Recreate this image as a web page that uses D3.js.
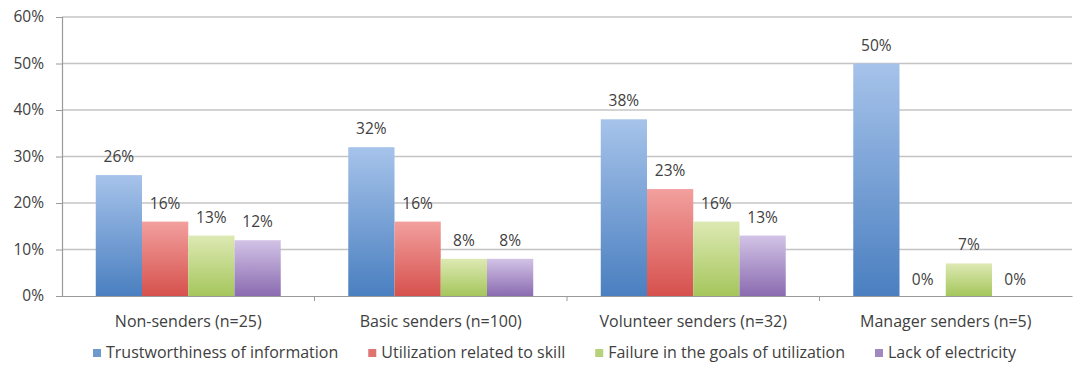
<!DOCTYPE html>
<html>
<head>
<meta charset="utf-8">
<script src="https://cdn.jsdelivr.net/npm/d3@7"></script>
<style>
  html, body { margin: 0; padding: 0; background: #fff; }
  svg { display: block; font-family: "Open Sans", sans-serif; }
</style>
</head>
<body>
<svg id="chart" width="1073" height="374"></svg>
<script>
// Groups of senders along the x axis
const categories = ["Non-senders (n=25)", "Basic senders (n=100)", "Volunteer senders (n=32)", "Manager senders (n=5)"];

// Reasons (series), one bar each per group
const seriesNames = ["Trustworthiness of information", "Utilization related to skill", "Failure in the goals of utilization", "Lack of electricity"];

// Share of respondents per reason, in group order
const trustworthiness = [0.26, 0.32, 0.38, 0.50];
const utilizationSkill = [0.16, 0.16, 0.23, 0.00];
const failureGoals = [0.13, 0.08, 0.16, 0.07];
const lackElectricity = [0.12, 0.08, 0.13, 0.00];

const yTicks = [0, 0.1, 0.2, 0.3, 0.4, 0.5, 0.6];

// Gradient stops (top, bottom) per series
const seriesColors = [
  ["#a6c3ea", "#4a7fc0"],
  ["#f2a09e", "#d6514d"],
  ["#dde9b3", "#a5c65c"],
  ["#d2c3e6", "#8a6bb0"]
];

const seriesValues = [trustworthiness, utilizationSkill, failureGoals, lackElectricity];

const svg = d3.select("#chart");
const margin = { left: 62, right: 1072, top: 17, bottom: 296 };

const x = d3.scaleBand().domain(categories).range([margin.left, margin.right]).paddingInner(0).paddingOuter(0);
const xInner = d3.scaleBand().domain(seriesNames).range([0, x.bandwidth()]).paddingInner(0).paddingOuter(0.73);
const y = d3.scaleLinear().domain([0, 0.6]).range([margin.bottom, margin.top]);

const fmt = d3.format(".0%");
const textColor = "#404040";

// Vertical gradients for the bars
const defs = svg.append("defs");
seriesColors.forEach((c, i) => {
  const g = defs.append("linearGradient")
    .attr("id", "grad" + i)
    .attr("x1", 0).attr("y1", 0).attr("x2", 0).attr("y2", 1);
  g.append("stop").attr("offset", "0%").attr("stop-color", c[0]);
  g.append("stop").attr("offset", "100%").attr("stop-color", c[1]);
});

// Horizontal gridlines
svg.append("g")
  .selectAll("line")
  .data(yTicks.filter(d => d > 0))
  .join("line")
  .attr("x1", margin.left).attr("x2", margin.right)
  .attr("y1", d => y(d)).attr("y2", d => y(d))
  .attr("stroke", "#c4c4c4")
  .attr("stroke-width", 1.4);

// Y axis
const yAxis = svg.append("g")
  .attr("transform", `translate(${margin.left},0)`)
  .call(d3.axisLeft(y).tickValues(yTicks).tickFormat(fmt).tickSize(6).tickPadding(12));
yAxis.select(".domain").attr("stroke", "#9a9a9a").attr("stroke-width", 1.2);
yAxis.selectAll(".tick line").attr("stroke", "#9a9a9a");
yAxis.selectAll(".tick text")
  .attr("fill", textColor)
  .style("font-size", "15.5px")
  .style("font-family", "'Open Sans', sans-serif");

// X axis
const xAxis = svg.append("g")
  .attr("transform", `translate(0,${margin.bottom})`)
  .call(d3.axisBottom(x).tickSize(0).tickPadding(20));
xAxis.select(".domain").attr("stroke", "#9a9a9a").attr("stroke-width", 1.2);
xAxis.selectAll(".tick text")
  .attr("fill", textColor)
  .style("font-size", "16px")
  .style("font-family", "'Open Sans', sans-serif");

// Small tick marks at group boundaries
svg.append("g")
  .selectAll("line")
  .data(categories.slice(1))
  .join("line")
  .attr("x1", d => x(d)).attr("x2", d => x(d))
  .attr("y1", margin.bottom).attr("y2", margin.bottom + 5)
  .attr("stroke", "#9a9a9a");

// Bars
const groups = svg.append("g")
  .selectAll("g")
  .data(categories)
  .join("g")
  .attr("transform", d => `translate(${x(d)},0)`);

const cells = groups.selectAll("g")
  .data((d, ci) => seriesNames.map((s, si) => ({ series: s, si, value: seriesValues[si][ci] })))
  .join("g");

cells.append("rect")
  .attr("x", d => xInner(d.series))
  .attr("width", xInner.bandwidth())
  .attr("y", d => y(d.value))
  .attr("height", d => y(0) - y(d.value))
  .attr("fill", d => `url(#grad${d.si})`);

// Value labels above bars
cells.append("text")
  .attr("x", d => xInner(d.series) + xInner.bandwidth() / 2)
  .attr("y", d => y(d.value) - (d.value === 0 ? 11 : 13))
  .attr("text-anchor", "middle")
  .attr("fill", textColor)
  .style("font-size", "15.5px")
  .text(d => fmt(d.value));

// Legend
const legend = svg.append("g").attr("transform", "translate(0,358)");
const items = legend.selectAll("g")
  .data(seriesNames)
  .join("g");
items.append("rect")
  .attr("width", 8).attr("height", 8)
  .attr("y", -9)
  .attr("fill", (d, i) => seriesColors[i][1])
  .attr("opacity", 0.8);
items.append("text")
  .attr("x", 13)
  .attr("fill", textColor)
  .style("font-size", "16px")
  .text(d => d);

let widths = [];
items.each(function () {
  widths.push(this.getBBox().width);
});
const gap = 30;
const total = d3.sum(widths) + gap * (widths.length - 1);
let cx = 555 - total / 2;
items.attr("transform", (d, i) => {
  const t = `translate(${cx},0)`;
  cx += widths[i] + gap;
  return t;
});
</script>
</body>
</html>
